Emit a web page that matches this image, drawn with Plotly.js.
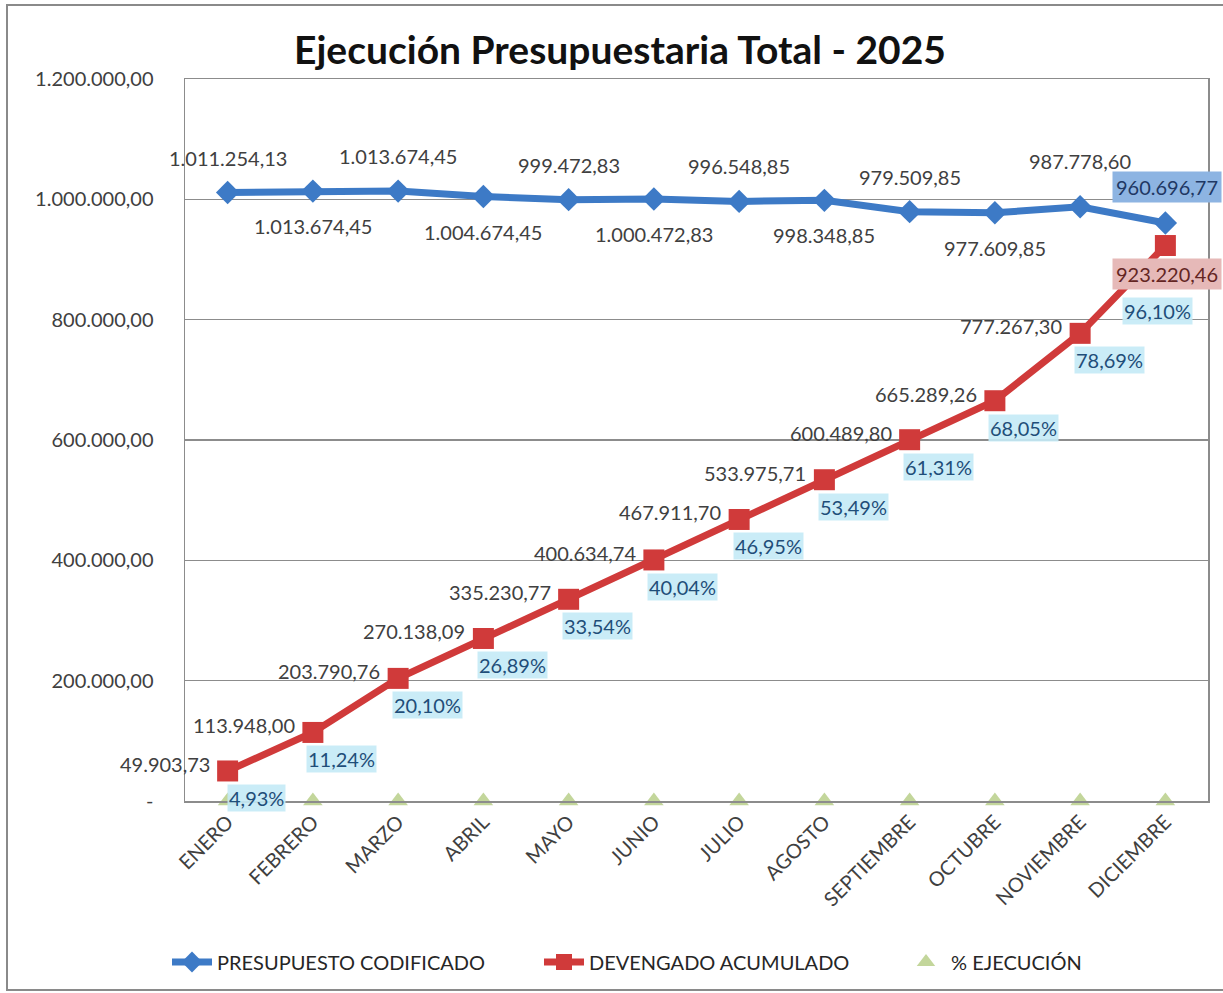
<!DOCTYPE html>
<html>
<head>
<meta charset="utf-8">
<script src="https://cdn.plot.ly/plotly-3.0.1.min.js"></script>
<style>
  html, body { margin: 0; padding: 0; background: #ffffff; }
  #chart { width: 1223px; height: 993px; }
</style>
</head>
<body>
<div id="chart"></div>
<script>
// ---- Data ----
const meses = ['ENERO', 'FEBRERO', 'MARZO', 'ABRIL', 'MAYO', 'JUNIO', 'JULIO', 'AGOSTO', 'SEPTIEMBRE', 'OCTUBRE', 'NOVIEMBRE', 'DICIEMBRE'];
const presupuestoCodificado = [1011254.13, 1013674.45, 1013674.45, 1004674.45, 999472.83, 1000472.83, 996548.85, 998348.85, 979509.85, 977609.85, 987778.60, 960696.77];
const devengadoAcumulado = [49903.73, 113948.00, 203790.76, 270138.09, 335230.77, 400634.74, 467911.70, 533975.71, 600489.80, 665289.26, 777267.30, 923220.46];
const ejecucion = [0.0493, 0.1124, 0.2010, 0.2689, 0.3354, 0.4004, 0.4695, 0.5349, 0.6131, 0.6805, 0.7869, 0.9610];
const yTickValues = [0, 200000, 400000, 600000, 800000, 1000000, 1200000];
const seriesNames = ['PRESUPUESTO CODIFICADO', 'DEVENGADO ACUMULADO', '% EJECUCIÓN'];
const chartTitle = 'Ejecución Presupuestaria Total - 2025';

// ---- Formatting helpers ----
function fmtNum(v) {
  const parts = v.toFixed(2).split('.');
  return parts[0].replace(/\B(?=(\d{3})+(?!\d))/g, '.') + ',' + parts[1];
}
function fmtPct(p) {
  return (p * 100).toFixed(2).replace('.', ',') + '%';
}
const yTickText = yTickValues.map(v => v === 0 ? '-' : fmtNum(v));

const FONT = 'Lato, "Open Sans", sans-serif';
const BLUE = '#3D7AC6';
const RED = '#D03A3A';
const GREEN = '#C3D69B';
const TXT = '#404040';
const last = meses.length - 1;

const traces = [
  {
    type: 'scatter', mode: 'lines+markers', name: seriesNames[0], legend: 'legend',
    x: meses, y: presupuestoCodificado,
    line: { color: BLUE, width: 7 },
    marker: { symbol: 'diamond', size: 18, color: BLUE },
    cliponaxis: false, hoverinfo: 'skip'
  },
  {
    type: 'scatter', mode: 'lines+markers', name: seriesNames[1], legend: 'legend2',
    x: meses, y: devengadoAcumulado,
    line: { color: RED, width: 7 },
    marker: { symbol: 'square', size: 21, color: RED },
    cliponaxis: false, hoverinfo: 'skip'
  },
  {
    type: 'scatter', mode: 'markers', name: seriesNames[2], legend: 'legend3',
    x: meses, y: ejecucion,
    marker: { symbol: 'triangle-up', size: 17, color: GREEN },
    cliponaxis: false, hoverinfo: 'skip'
  }
];

const annotations = [];
const lblFont = { family: FONT, size: 20, color: TXT };

presupuestoCodificado.forEach((v, i) => {
  const a = { x: meses[i], y: v, xref: 'x', yref: 'y', text: fmtNum(v), showarrow: false, font: lblFont };
  if (i === last) {
    a.yshift = 36; a.xshift = 2; a.bgcolor = '#8DB4E2'; a.borderpad = 3;
    a.font = { family: FONT, size: 20, color: '#1F3864' };
  } else if (i === last - 1) {
    a.yshift = 46;
  } else {
    a.yshift = (i % 2 === 0) ? 35 : -35;
  }
  annotations.push(a);
});

devengadoAcumulado.forEach((v, i) => {
  const a = { x: meses[i], y: v, xref: 'x', yref: 'y', text: fmtNum(v), showarrow: false, font: lblFont };
  if (i === last) {
    a.yshift = -28; a.xshift = 2; a.bgcolor = '#E6B9B8'; a.borderpad = 3;
    a.font = { family: FONT, size: 20, color: '#632523' };
  } else {
    a.xanchor = 'right'; a.xshift = -16; a.yshift = 7;
  }
  annotations.push(a);
});

ejecucion.forEach((p, i) => {
  const a = {
    x: meses[i], y: devengadoAcumulado[i], xref: 'x', yref: 'y', text: fmtPct(p), showarrow: false,
    font: { family: FONT, size: 20, color: '#1F4E79' }, bgcolor: 'rgba(196,234,246,0.9)', borderpad: 1
  };
  if (i === last) { a.xshift = -8; a.yshift = -65; }
  else { a.xshift = 29; a.yshift = -27; }
  annotations.push(a);
});

// geometry of plot area (pixels)
const W = 1223, H = 993, L = 185, R = 15, T = 79, B = 192;
const pw = W - L - R, ph = H - T - B;
const px = x => (x - L) / pw;
const py = y => (H - B - y) / ph;

function legendAt(xPix) {
  return {
    orientation: 'h', xref: 'paper', yref: 'paper',
    x: px(xPix), xanchor: 'left', y: py(962), yanchor: 'middle',
    font: { family: FONT, size: 20, color: '#262626' },
    itemwidth: 40, bgcolor: 'rgba(0,0,0,0)'
  };
}

const layout = {
  width: W, height: H,
  margin: { l: L, r: R, t: T, b: B, pad: 0 },
  paper_bgcolor: '#ffffff', plot_bgcolor: '#ffffff',
  font: { family: FONT, color: TXT, size: 19 },
  title: {
    text: '<b>' + chartTitle + '</b>',
    font: { family: FONT, size: 39, color: '#111111' },
    xref: 'paper', x: px(620), xanchor: 'center',
    yref: 'container', y: 1 - 50 / H, yanchor: 'middle'
  },
  showlegend: true,
  legend: legendAt(167),
  legend2: legendAt(539),
  legend3: legendAt(901),
  xaxis: {
    type: 'category', range: [-0.5, meses.length - 0.5],
    tickangle: -45, tickfont: { family: FONT, size: 20, color: TXT },
    showgrid: false, showline: true, linecolor: '#8C8C8C', linewidth: 1.5, mirror: true,
    ticks: '', zeroline: false, fixedrange: true
  },
  yaxis: {
    range: [0, 1200000], tickmode: 'array', tickvals: yTickValues, ticktext: yTickText,
    tickfont: { family: FONT, size: 20, color: TXT },
    showgrid: true, gridcolor: '#8C8C8C', gridwidth: 1.3,
    showline: true, linecolor: '#8C8C8C', linewidth: 1.5, mirror: true,
    ticks: '', ticklabelstandoff: 26, zeroline: false, fixedrange: true
  },
  annotations: annotations,
  shapes: [{
    type: 'rect', xref: 'paper', yref: 'paper',
    x0: px(7), x1: px(1228), y0: py(990), y1: py(5),
    line: { color: '#8A8A8A', width: 2 }, fillcolor: 'rgba(0,0,0,0)', layer: 'below'
  }]
};

Plotly.newPlot('chart', traces, layout, { displayModeBar: false, staticPlot: true });
</script>
</body>
</html>
